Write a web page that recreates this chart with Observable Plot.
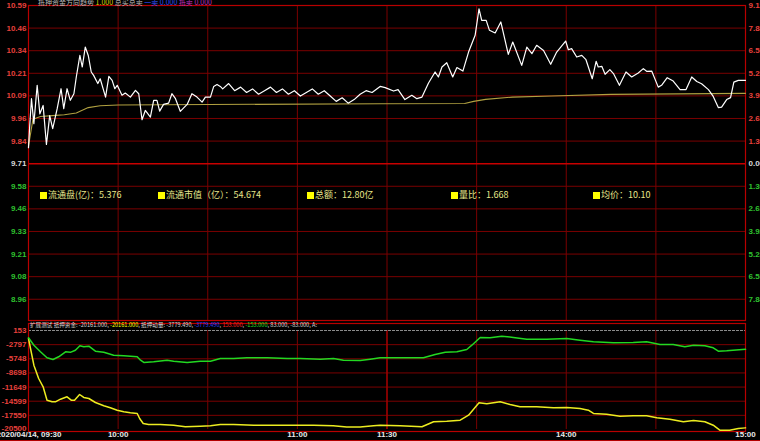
<!DOCTYPE html>
<html><head><meta charset="utf-8">
<script src="https://cdn.jsdelivr.net/npm/d3@7"></script>
<script src="https://cdn.jsdelivr.net/npm/@observablehq/plot@0.6"></script>
<style>
html,body{margin:0;padding:0;background:#000;}
#wrap{position:relative;width:760px;height:441px;background:#000;overflow:hidden;}
#wrap svg{display:block;}
.ov{position:absolute;white-space:nowrap;font-family:"Noto Sans CJK SC","DejaVu Sans",sans-serif;}
#info span.it{position:absolute;top:0;color:#e6e68a;font-size:9px;line-height:12px;}
#info span.sq{display:inline-block;width:7px;height:7px;background:#ffff00;margin-right:1px;vertical-align:-0.5px;}
#hdr{top:-2px;left:38px;font-size:7px;line-height:9px;color:#aaa;}
#sub{top:321px;left:30px;font-size:5.6px;line-height:8px;color:#d8d8d8;}
#baseline{position:absolute;left:0;top:440px;width:760px;height:1px;background:#b30000;}
</style></head><body>
<div id="wrap">
  <div id="top"></div>
  <div id="bottom"></div>
  <div class="ov" id="hdr"><span style="color:#bbb">抵押资金方向趋势</span> <span style="color:#d8d800">1.000</span> <span style="color:#bbb">总买总卖</span> <span style="color:#3050ff">一卖 0.000</span> <span style="color:#c030c0">抵卖 0.000</span></div>
  <div class="ov" id="info"></div>
  <div class="ov" id="sub"><span>扩展测试 抵押资金: -20161.000, </span><span style="color:#ffff00">-20161.000</span><span>, 抵押动量: -3779.490, </span><span style="color:#2a3cff">-3779.490</span><span>, </span><span style="color:#ff2020">153.000</span><span>, </span><span style="color:#20e020">-153.000</span><span>, 83.000, -83.000, A:</span></div>
  <div id="baseline"></div>
</div>
<script>
// ---------------- data ----------------
const prevClose = 9.71;
const maxPct = 9.15;
const priceTickLabels = ["10.59","10.46","10.34","10.21","10.09","9.96","9.84","9.71","9.58","9.46","9.33","9.21","9.08","8.96"];
const pctTickLabels = ["9.15%","7.84%","6.53%","5.23%","3.92%","2.61%","1.30%","0.00%","1.30%","2.61%","3.92%","5.23%","6.53%","7.84%"];

const priceMin = [0,0.4,1,1.8,2.9,3.8,4.9,6,7.1,8.1,9.6,10.9,11.8,12.9,14,15.2,16,17.2,18,19,20,21,21.8,23.2,24,25.8,26.9,28,28.9,29.7,31.3,32.4,34.1,35.8,36.9,38,39.1,40.8,41.9,43,43.9,45.2,46.9,48,49.2,50.8,53.1,54.7,56.4,58.1,59.2,60.9,62,63.1,64.2,
  65,67,69,71,73,75,77,79,81,83,85,87,89,91,93,95,97,99,101,103,105,107,109,111,113,115,
  117.7,119.4,122.2,123.7,126,128.3,130,131.7,133.9,136.1,137.2,138.4,140,142,143.4,145.4,147.3,149.5,150.8,151.7,153.2,154.3,156.2,158.1,160.6,162.1,165.1,166.8,168.5,170.1,172.4,174.8,176.8,179.8,180.7,181.8,183.5,185.2,186.6,188.7,190,190.7,191.9,193,194.6,195.8,197.8,200,201.9,204.1,205.8,206.9,208.6,210.8,211.9,213.8,215.8,218.1,220.1,222,223.7,225.3,227.6,229.2,230.9,232,233.7,235,236.1,237.6,240];
const priceVal = [9.80,9.92,10.075,9.935,10.15,9.99,10.037,9.818,9.98,9.907,10.019,10.131,10.019,10.131,10.066,10.103,10.197,10.318,10.253,10.365,10.318,10.225,10.206,10.16,10.187,10.084,10.2,10.178,10.131,10.15,10.094,10.107,10.084,10.122,10.103,9.957,10.009,9.972,10.066,10.066,10.005,10.043,10.05,10.103,10.075,10.004,10.043,10.103,10.084,10.056,10.084,10.084,10.144,10.155,10.144,
  10.13,10.16,10.12,10.14,10.11,10.13,10.10,10.12,10.14,10.11,10.13,10.10,10.12,10.09,10.11,10.13,10.10,10.12,10.09,10.06,10.08,10.05,10.07,10.10,10.12,10.11,
  10.144,10.137,10.118,10.126,10.07,10.094,10.075,10.084,10.163,10.225,10.197,10.253,10.277,10.197,10.25,10.23,10.337,10.431,10.58,10.515,10.515,10.459,10.444,10.506,10.324,10.393,10.262,10.365,10.328,10.375,10.346,10.268,10.337,10.399,10.35,10.356,10.309,10.318,10.294,10.187,10.285,10.253,10.257,10.212,10.238,10.216,10.15,10.225,10.197,10.219,10.244,10.229,10.23,10.14,10.15,10.193,10.174,10.126,10.126,10.197,10.172,10.159,10.126,10.088,10.025,10.028,10.07,10.081,10.168,10.178,10.178];

const avgMin = [0,1.5,4,8,12,16,18,20,24,30,60,118,146,149,153,162,175,195,240];
const avgVal = [9.81,9.96,9.975,9.98,9.985,9.995,10.01,10.025,10.035,10.04,10.042,10.047,10.048,10.06,10.071,10.084,10.09,10.099,10.105];

// 抵押资金 (yellow)
const fundMin = [0,1.8,3.4,4.9,6.2,7.9,9,10.7,12.9,14.3,15.4,17.1,18.5,20.2,22.4,25.2,27.4,29.7,31.9,34.1,36.4,37.2,38.4,40.2,44.1,48.6,52.5,57.5,60.9,64.2,68.7,75.4,82,88.7,95.4,102,106.5,111,115.5,117.7,124.4,131.7,135.6,140,144.5,147.3,150.8,153.4,157.9,161.2,164.5,170.1,175.7,180.2,184.6,187.4,189.1,193.5,198,202.4,206.9,210.3,214.7,219.2,222.6,226.4,229.2,231.4,234.7,237.6,240];
const fundVal = [-1516,-7085,-9860,-11590,-14386,-14720,-14720,-14180,-13680,-14386,-14386,-13200,-13820,-14030,-14870,-15560,-15970,-16470,-16810,-17020,-17160,-18200,-19250,-19460,-19460,-19600,-19935,-19800,-19730,-19460,-19460,-19600,-19600,-19600,-19600,-19730,-20000,-20000,-19730,-19600,-19730,-19935,-18890,-18770,-18550,-17510,-14930,-15140,-14720,-15280,-15770,-15770,-15970,-15900,-16120,-16470,-17160,-17300,-17720,-17650,-17650,-18060,-18350,-18890,-18620,-18890,-19600,-20640,-20640,-20290,-20161];
// 抵押动量 (green)
const momMin = [0,1.8,4,6.2,8.2,10.1,12.4,14,15.7,17.2,18.5,20.2,22.4,25.2,28.5,31.9,36.4,37.5,38.6,41.9,46.4,48.6,53.1,57.5,60.9,64.2,68.7,73.1,80,86.6,91,97.7,102.1,105.4,111,114.4,117.7,124.4,132.2,136.1,139.5,143.4,146.7,148.4,151.2,154.5,158.4,162.3,166.8,173.5,180.2,184.6,189.1,195.8,202.4,206.9,211.4,215.8,219.7,222.6,226.4,229.2,230.9,233.7,240];
const momVal = [-1370,-2913,-4290,-5540,-5900,-5330,-4290,-4400,-3960,-3040,-3250,-3110,-4160,-4400,-5000,-5140,-5330,-6040,-6520,-6390,-6040,-6250,-6520,-6250,-6250,-5690,-5690,-5540,-5540,-5690,-5690,-5830,-5690,-6040,-6110,-5830,-5540,-5540,-5540,-4850,-4400,-4290,-3810,-2913,-1300,-1370,-1030,-1300,-1670,-1670,-1516,-1870,-2210,-2420,-2350,-2210,-2770,-2770,-3250,-2913,-3040,-3460,-4160,-4090,-3779.49];

const lowerTickVals = [153,-2797,-5748,-8698,-11649,-14599,-17550,-20500];
const lowerTickLabels = ["153","-2797","-5748","-8698","-11649","-14599","-17550","-20500"];

const gridMin = [30,60,90,120,150,180,210];
const xTickMin = [0,30,90,120,180,240];
const xTickLabels = ["2020/04/14, 09:30","10:00","11:00","11:30","14:00","15:00"];

const infoLabels = ["流通盘(亿)：","流通市值（亿）：","总额：","量比：","均价："];
const infoValues = ["5.376","54.674","12.80亿","1.668","10.10"];

// ---------------- styles / layout ----------------
const GRID = "#7a0000", FRAME = "#b80000";
const UP = "#e8403c", DOWN = "#2fc02f", FLAT = "#d8d8d8";
const AXFONT = "'Liberation Sans',Arial,sans-serif";
const AXSIZE = 8;
const infoLeft = [40,158,307,451,593];

const step = prevClose * maxPct / 700;
const ticks = priceTickLabels.map((label, i) => {
  const k = 7 - i;
  return {k, v: prevClose + k * step, label, pct: pctTickLabels[i], color: k > 0 ? UP : k < 0 ? DOWN : FLAT};
});
const price = priceMin.map((m, i) => ({m, v: priceVal[i]}));
const avg = avgMin.map((m, i) => ({m, v: avgVal[i]}));
const fund = fundMin.map((m, i) => ({m, v: fundVal[i]}));
const mom = momMin.map((m, i) => ({m, v: momVal[i]}));
const lticks = lowerTickVals.map((v, i) => ({v, label: lowerTickLabels[i]}));
const xt = xTickMin.map((m, i) => ({m, label: xTickLabels[i]}));

const topPlot = Plot.plot({
  width: 760, height: 322,
  marginLeft: 28, marginRight: 15, marginTop: 5, marginBottom: 2,
  x: {domain: [0, 240], axis: null},
  y: {domain: [prevClose - 6.94 * step, prevClose + 7 * step], axis: null},
  color: {type: "identity"},
  style: {background: "#000", overflow: "hidden"},
  marks: [
    Plot.ruleY(ticks.filter(d => d.k !== 0), {y: "v", stroke: GRID, strokeWidth: 1}),
    Plot.ruleX(gridMin, {stroke: GRID, strokeWidth: 1}),
    Plot.ruleY(ticks.filter(d => d.k === 0), {y: "v", stroke: "#c80000", strokeWidth: 1.6}),
    Plot.frame({stroke: FRAME, strokeWidth: 1.2}),
    Plot.line(avg, {x: "m", y: "v", stroke: "#b0a040", strokeWidth: 1.1}),
    Plot.line(price, {x: "m", y: "v", stroke: "#ffffff", strokeWidth: 1.2}),
    Plot.text(ticks, {y: "v", text: "label", fill: "color", frameAnchor: "left", textAnchor: "end", dx: -2,
      fontSize: AXSIZE, fontWeight: "bold", fontFamily: AXFONT}),
    Plot.text(ticks, {y: "v", text: "pct", fill: "color", frameAnchor: "right", textAnchor: "start", dx: 3,
      fontSize: AXSIZE, fontWeight: "bold", fontFamily: AXFONT})
  ]
});
document.getElementById("top").appendChild(topPlot);

const botPlot = Plot.plot({
  width: 760, height: 119,
  marginLeft: 28, marginRight: 15, marginTop: 8, marginBottom: 12,
  x: {domain: [0, 240], axis: null},
  y: {domain: [-20500, 153], axis: null},
  style: {background: "#000", overflow: "hidden"},
  marks: [
    Plot.ruleY(lticks.slice(1, -1), {y: "v", stroke: GRID, strokeWidth: 1}),
    Plot.ruleX(gridMin, {stroke: d => d === 120 ? "#a00000" : GRID, strokeWidth: d => d === 120 ? 1.6 : 1}),
    Plot.ruleY(lticks.slice(0, 1), {y: "v", stroke: "#8a8a8a", strokeWidth: 1, strokeDasharray: "3,1"}),
    Plot.frame({stroke: FRAME, strokeWidth: 1.2, insetTop: -7, insetBottom: -2}),
    Plot.line(fund, {x: "m", y: "v", stroke: "#ecec20", strokeWidth: 1.5}),
    Plot.line(mom, {x: "m", y: "v", stroke: "#22d822", strokeWidth: 1.5}),
    Plot.text(lticks.slice(0, -1), {y: "v", text: "label", fill: UP, frameAnchor: "left", textAnchor: "end", dx: -2,
      fontSize: AXSIZE, fontWeight: "bold", fontFamily: AXFONT}),
    Plot.text(lticks.slice(-1), {y: "v", text: "label", fill: UP, frameAnchor: "left", textAnchor: "end", dx: -2, lineAnchor: "bottom", dy: 1,
      fontSize: AXSIZE, fontWeight: "bold", fontFamily: AXFONT}),
    Plot.text(xt.slice(0, 1), {x: "m", text: "label", fill: "#e8e8e8", frameAnchor: "bottom", textAnchor: "end", dx: 33, dy: 7,
      fontSize: AXSIZE, fontWeight: "bold", fontFamily: AXFONT}),
    Plot.text(xt.slice(1), {x: "m", text: "label", fill: "#e8e8e8", frameAnchor: "bottom", textAnchor: "middle", dy: 7,
      fontSize: AXSIZE, fontWeight: "bold", fontFamily: AXFONT})
  ]
});
document.getElementById("bottom").appendChild(botPlot);

const info = document.getElementById("info");
info.style.top = "189px"; info.style.left = "0px";
infoLabels.forEach((lab, i) => {
  const s = document.createElement("span");
  s.className = "it";
  s.style.left = infoLeft[i] + "px";
  s.innerHTML = '<span class="sq"></span>' + lab + infoValues[i];
  info.appendChild(s);
});
</script>
</body></html>
